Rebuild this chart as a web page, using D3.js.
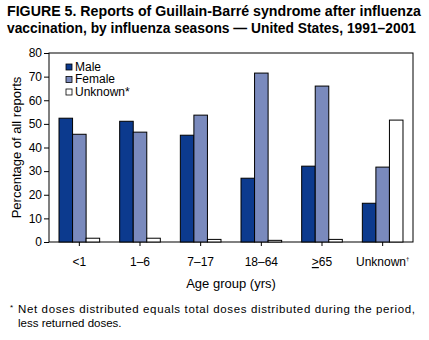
<!DOCTYPE html>
<html>
<head>
<meta charset="utf-8">
<script src="https://cdn.jsdelivr.net/npm/d3@7"></script>
<style>
  body { margin: 0; background: #fff; }
  text { font-family: "Liberation Sans", Arial, sans-serif; }
</style>
</head>
<body>
<div id="chart"></div>
<script>
var groups = ["<1", "1–6", "7–17", "18–64", ">=65", "Unknown"];
var series = ["Male", "Female", "Unknown*"];
var male = [52.4, 51.1, 45.2, 27.0, 32.1, 16.4];
var female = [45.6, 46.5, 53.7, 71.5, 66.0, 31.7];
var unknown = [1.6, 1.6, 1.1, 0.7, 1.1, 51.6];
var yTicks = [0, 10, 20, 30, 40, 50, 60, 70, 80];
var colors = ["#0c3a8e", "#7a8abd", "#ffffff"];

function draw() {
    var w = 429, h = 340;
    var pl = 49, pr = 413, pt = 53, pb = 242;

    var svg = d3.select("#chart").append("svg")
        .attr("width", w)
        .attr("height", h);

    // title
    var title = svg.append("text")
        .attr("x", 7)
        .attr("y", 16)
        .attr("font-size", 14)
        .attr("font-weight", "bold");
    title.append("tspan").attr("x", 7).attr("textLength", 414).attr("lengthAdjust", "spacingAndGlyphs")
        .text("FIGURE 5. Reports of Guillain-Barré syndrome after influenza");
    title.append("tspan").attr("x", 7).attr("dy", 16.5).attr("textLength", 409).attr("lengthAdjust", "spacingAndGlyphs")
        .text("vaccination, by influenza seasons — United States, 1991–2001");

    var x0 = d3.scaleBand().domain(groups).range([pl, pr]).paddingInner(0.33).paddingOuter(0.165);
    var x1 = d3.scaleBand().domain(series).range([0, x0.bandwidth()]);
    var y = d3.scaleLinear().domain([0, 80]).range([pb, pt]);

    var data = groups.map(function(g, i) {
        return { group: g, vals: [male[i], female[i], unknown[i]] };
    });

    // frame
    svg.append("rect")
        .attr("x", pl).attr("y", pt)
        .attr("width", pr - pl).attr("height", pb - pt)
        .attr("fill", "none").attr("stroke", "#000").attr("stroke-width", 1);

    var gs = svg.selectAll(".grp").data(data).enter().append("g")
        .attr("transform", function(d) { return "translate(" + x0(d.group) + ",0)"; });
    gs.selectAll("rect").data(function(d) { return d.vals; }).enter().append("rect")
        .attr("x", function(d, i) { return x1(series[i]); })
        .attr("y", function(d) { return y(d); })
        .attr("width", x1.bandwidth())
        .attr("height", function(d) { return pb - y(d); })
        .attr("fill", function(d, i) { return colors[i]; })
        .attr("stroke", "#000")
        .attr("stroke-width", 1);

    // y axis
    var yAxis = svg.append("g")
        .attr("transform", "translate(" + pl + ",0)")
        .call(d3.axisLeft(y).tickValues(yTicks).tickSize(5).tickPadding(2));
    yAxis.select(".domain").remove();
    yAxis.selectAll("text").attr("font-size", 12).attr("fill", "#000")
        .style("font-family", "'Liberation Sans', Arial, sans-serif");

    // x axis
    var xAxis = svg.append("g")
        .attr("transform", "translate(0," + pb + ")")
        .call(d3.axisBottom(x0).tickSize(4).tickFormat(""));
    xAxis.select(".domain").remove();
    xAxis.selectAll(".tick").each(function(d) {
        var t = d3.select(this).append("text")
            .attr("y", 24)
            .attr("text-anchor", "middle")
            .attr("font-size", 12)
            .attr("fill", "#000")
            .style("font-family", "'Liberation Sans', Arial, sans-serif");
        if (d === ">=65") {
            t.append("tspan").attr("text-decoration", "underline").text(">");
            t.append("tspan").text("65");
        } else if (d === "Unknown") {
            t.append("tspan").text("Unknown");
            t.append("tspan").attr("font-size", 6).attr("dy", -5).text("†");
        } else {
            t.text(d);
        }
    });

    // axis titles
    svg.append("text")
        .attr("transform", "translate(21," + ((pt + pb) / 2) + ") rotate(-90)")
        .attr("text-anchor", "middle")
        .attr("font-size", 13)
        .text("Percentage of all reports");
    svg.append("text")
        .attr("x", (pl + pr) / 2)
        .attr("y", 288)
        .attr("text-anchor", "middle")
        .attr("font-size", 13)
        .text("Age group (yrs)");

    // legend
    var leg = svg.selectAll(".leg").data(series).enter().append("g")
        .attr("transform", function(d, i) { return "translate(66," + (64 + i * 12.5) + ")"; });
    leg.append("rect")
        .attr("width", 6).attr("height", 6)
        .attr("fill", function(d, i) { return colors[i]; })
        .attr("stroke", "#000").attr("stroke-width", 0.8);
    leg.append("text")
        .attr("x", 9).attr("y", 6.5)
        .attr("font-size", 12)
        .text(function(d) { return d; });

    // footnote
    svg.append("text").attr("x", 10).attr("y", 310).attr("font-size", 8).text("*");
    svg.append("text").attr("x", 18).attr("y", 313).attr("font-size", 11.5)
        .attr("textLength", 397).attr("lengthAdjust", "spacing")
        .text("Net doses distributed equals total doses distributed during the period,");
    svg.append("text").attr("x", 18).attr("y", 327).attr("font-size", 11.5)
        .text("less returned doses.");
}

draw();
</script>
</body>
</html>
